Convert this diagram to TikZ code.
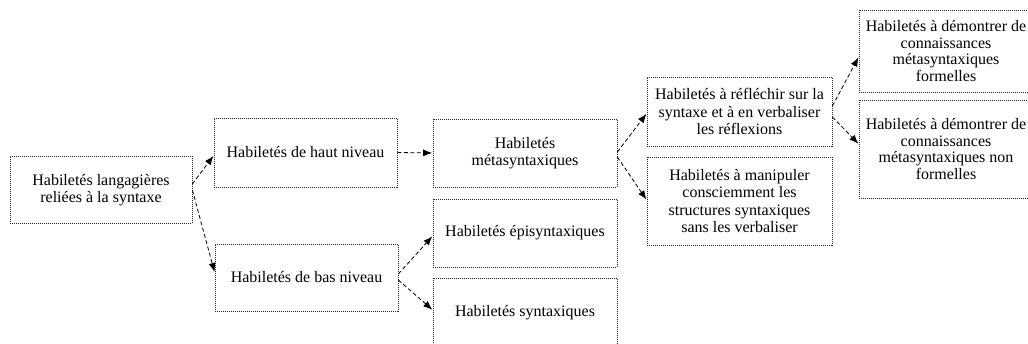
\documentclass[tikz,border=0pt]{standalone}
\usepackage{fontspec}
\setmainfont{Liberation Serif}
\usetikzlibrary{arrows.meta}
\begin{document}
\begin{tikzpicture}[x=1pt,y=-1pt,
  box/.style={draw=black!85, line width=0.7pt, dash pattern=on 1pt off 1pt,
    inner sep=0pt, align=center, font=\fontsize{16}{17.5}\selectfont},
  link/.style={draw=black, line width=0.8pt, dash pattern=on 4pt off 2.5pt,
    -{Latex[length=9pt,width=7pt]}, shorten >=0.5pt}]
\useasboundingbox (0,0) rectangle (1028,344);
\node[box, minimum width=182pt, minimum height=67pt] (A) at (101,190)
  {Habiletés langagières\\reliées à la syntaxe};
\node[box, minimum width=183pt, minimum height=69pt] (B) at (305.5,152.5)
  {Habiletés de haut niveau};
\node[box, minimum width=183pt, minimum height=67pt] (C) at (306.5,277.5)
  {Habiletés de bas niveau};
\node[box, minimum width=184pt, minimum height=68pt] (D) at (525,153)
  {Habiletés\\métasyntaxiques};
\node[box, minimum width=184pt, minimum height=68pt] (E) at (525,233)
  {Habiletés épisyntaxiques};
\node[box, minimum width=184pt, minimum height=70pt] (F) at (525,313)
  {Habiletés syntaxiques};
\node[box, minimum width=185pt, minimum height=69pt] (G) at (739.5,111.5)
  {Habiletés à réfléchir sur la\\syntaxe et à en verbaliser\\les réflexions};
\node[box, minimum width=185pt, minimum height=88pt] (H) at (739.5,201)
  {Habiletés à manipuler\\consciemment les\\structures syntaxiques\\sans les verbaliser};
\node[box, minimum width=174pt, minimum height=82pt, font=\fontsize{16}{16.5}\selectfont] (I) at (946,51)
  {Habiletés à démontrer de\\connaissances\\métasyntaxiques\\formelles};
\node[box, minimum width=174pt, minimum height=98pt, font=\fontsize{16}{16.5}\selectfont] (J) at (946,149)
  {Habiletés à démontrer de\\connaissances\\métasyntaxiques non\\formelles};
\draw[link] ([yshift=6pt]A.east) -- ([yshift=-3pt]B.west);
\draw[link] ([yshift=0pt]A.east) -- ([yshift=5pt]C.west);
\draw[link] (B.east) -- (D.west);
\draw[link] ([yshift=3.5pt]C.east) -- ([yshift=-3pt]E.west);
\draw[link] ([yshift=-2.5pt]C.east) -- ([yshift=3pt]F.west);
\draw[link] ([yshift=1pt]D.east) -- ([yshift=-2pt]G.west);
\draw[link] ([yshift=-4pt]D.east) -- ([yshift=1pt]H.west);
\draw[link] ([yshift=5.5pt]G.east) -- ([yshift=-6pt]I.west);
\draw[link] ([yshift=-5.5pt]G.east) -- ([yshift=5pt]J.west);
\end{tikzpicture}
\end{document}
